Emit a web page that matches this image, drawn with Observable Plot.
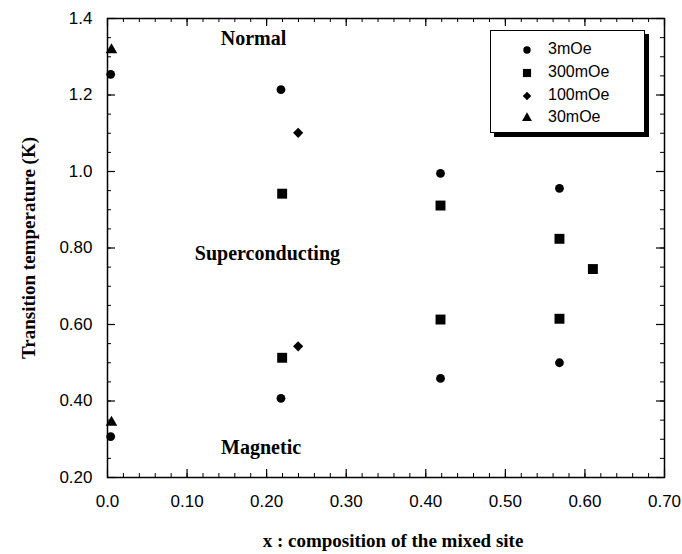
<!DOCTYPE html>
<html>
<head>
<meta charset="utf-8">
<script src="https://cdn.jsdelivr.net/npm/d3@7"></script>
<script src="https://cdn.jsdelivr.net/npm/@observablehq/plot@0.6"></script>
<style>
  html, body { margin: 0; padding: 0; background: #fff; }
  #wrap { position: relative; width: 682px; height: 554px; }
  #legend {
    position: absolute; left: 490px; top: 30px; width: 153px; height: 101px;
    border: 1.5px solid #000; background: #fff; box-shadow: 4px 4px 0 #000;
    font-family: "Liberation Sans", Arial, sans-serif; font-size: 16px;
  }
  #legend .row { position: absolute; left: 0; height: 22px; }
  #legend svg { position: absolute; left: 28px; }
  #legend span { position: absolute; left: 57px; white-space: nowrap; }
</style>
</head>
<body>
<div id="wrap"></div>
<script>
// ---- data ----
const series = ["3mOe", "300mOe", "100mOe", "30mOe"];

const x3mOe = [0.004, 0.004, 0.218, 0.218, 0.4185, 0.4185, 0.568, 0.568];
const y3mOe = [1.254, 0.307, 1.214, 0.407, 0.995, 0.459, 0.956, 0.500];

const x300mOe = [0.2195, 0.2195, 0.4185, 0.4185, 0.568, 0.568, 0.610];
const y300mOe = [0.942, 0.513, 0.911, 0.613, 0.824, 0.615, 0.745];

const x100mOe = [0.2396, 0.2396];
const y100mOe = [1.101, 0.543];

const x30mOe = [0.005, 0.005];
const y30mOe = [1.318, 0.344];

const xTicks = [0, 0.1, 0.2, 0.3, 0.4, 0.5, 0.6, 0.7];
const xTickLabels = ["0.0", "0.10", "0.20", "0.30", "0.40", "0.50", "0.60", "0.70"];
const yTicks = [0.2, 0.4, 0.6, 0.8, 1.0, 1.2, 1.4];
const yTickLabels = ["0.20", "0.40", "0.60", "0.80", "1.0", "1.2", "1.4"];
const xMinor = d3.range(0, 36).map(i => i * 0.02);
const yMinor = d3.range(0, 25).map(i => 0.2 + i * 0.05);

const regionText = ["Normal", "Superconducting", "Magnetic"];
const regionX = [0.1835, 0.201, 0.193];
const regionY = [1.348, 0.786, 0.278];

const xTitle = "x : composition of the mixed site";
const yTitle = "Transition temperature (K)";

// ---- build tables ----
const pts = (xs, ys, s) => xs.map((x, i) => ({x, y: ys[i], s}));
const d3m = pts(x3mOe, y3mOe, series[0]);
const d300 = pts(x300mOe, y300mOe, series[1]);
const d100 = pts(x100mOe, y100mOe, series[2]);
const d30 = pts(x30mOe, y30mOe, series[3]);
const regions = regionText.map((t, i) => ({t, x: regionX[i], y: regionY[i]}));

const W = 682, H = 554, mL = 107, mR = 18, mT = 18, mB = 77;
const frameH = H - mT - mB, frameW = W - mL - mR;
const minorLen = 4, majorLen = 8;
const serif = "'Liberation Serif', 'Times New Roman', serif";
const fmt = (vals, labels) => d => labels[vals.findIndex(v => Math.abs(v - d) < 1e-9)];

const chart = Plot.plot({
  width: W, height: H,
  marginLeft: mL, marginRight: mR, marginTop: mT, marginBottom: mB,
  x: {domain: [0, 0.7]},
  y: {domain: [0.2, 1.4]},
  style: {fontFamily: "'Liberation Sans', Arial, sans-serif", fontSize: "17px", background: "#fff", color: "#000"},
  marks: [
    // inward ticks on all four sides
    Plot.ruleX(xMinor, {x: d => d, insetTop: frameH - minorLen, strokeWidth: 1}),
    Plot.ruleX(xMinor, {x: d => d, insetBottom: frameH - minorLen, strokeWidth: 1}),
    Plot.ruleX(xTicks, {x: d => d, insetTop: frameH - majorLen, strokeWidth: 1.2}),
    Plot.ruleX(xTicks, {x: d => d, insetBottom: frameH - majorLen, strokeWidth: 1.2}),
    Plot.ruleY(yMinor, {y: d => d, insetRight: frameW - minorLen, strokeWidth: 1}),
    Plot.ruleY(yMinor, {y: d => d, insetLeft: frameW - minorLen, strokeWidth: 1}),
    Plot.ruleY(yTicks, {y: d => d, insetRight: frameW - majorLen, strokeWidth: 1.2}),
    Plot.ruleY(yTicks, {y: d => d, insetLeft: frameW - majorLen, strokeWidth: 1.2}),
    Plot.frame({stroke: "#000", strokeWidth: 1.5}),
    Plot.axisX({ticks: xTicks, tickSize: 0, tickPadding: 17, label: null,
      tickFormat: fmt(xTicks, xTickLabels), fontSize: 17}),
    Plot.axisY({ticks: yTicks, tickSize: 0, tickPadding: 15, label: null,
      tickFormat: fmt(yTicks, yTickLabels), fontSize: 17}),
    Plot.text([xTitle], {frameAnchor: "bottom", lineAnchor: "middle", textAnchor: "middle",
      dy: 63, dx: 7, text: d => d,
      fontFamily: serif, fontWeight: "bold", fontSize: 19, style: "letter-spacing:1px"}),
    Plot.text([yTitle], {frameAnchor: "left", lineAnchor: "middle", textAnchor: "middle",
      dx: -79, rotate: -90, text: d => d,
      fontFamily: serif, fontWeight: "bold", fontSize: 19}),
    Plot.text(regions, {x: "x", y: "y", text: "t",
      fontFamily: serif, fontWeight: "bold", fontSize: 20}),
    Plot.dot(d3m, {x: "x", y: "y", symbol: "circle", r: 4.4, fill: "#000"}),
    Plot.dot(d300, {x: "x", y: "y", symbol: "square", r: 5.6, fill: "#000"}),
    Plot.dot(d100, {x: "x", y: "y", symbol: "diamond2", r: 4.6, fill: "#000"}),
    Plot.dot(d30, {x: "x", y: "y", symbol: "triangle", r: 4.3, fill: "#000"})
  ]
});

const wrap = document.getElementById("wrap");
wrap.appendChild(chart);

// ---- legend ----
const legend = document.createElement("div");
legend.id = "legend";
const legSym = [
  {sym: d3.symbolCircle, r: 3.7},
  {sym: d3.symbolSquare, r: 4.6},
  {sym: d3.symbolDiamond2, r: 3.8},
  {sym: d3.symbolTriangle, r: 3.7}
];
const rowTops = [8, 31, 54, 76];
series.forEach((name, i) => {
  const row = document.createElement("div");
  row.className = "row";
  row.style.top = rowTops[i] + "px";
  row.style.width = "100%";
  const svg = d3.create("svg").attr("width", 16).attr("height", 16).style("top", "3px");
  svg.append("path")
    .attr("transform", "translate(8,8)")
    .attr("d", d3.symbol(legSym[i].sym, Math.PI * legSym[i].r * legSym[i].r)())
    .attr("fill", "#000");
  row.appendChild(svg.node());
  const sp = document.createElement("span");
  sp.textContent = name;
  sp.style.top = "1px";
  row.appendChild(sp);
  legend.appendChild(row);
});
wrap.appendChild(legend);
</script>
</body>
</html>
